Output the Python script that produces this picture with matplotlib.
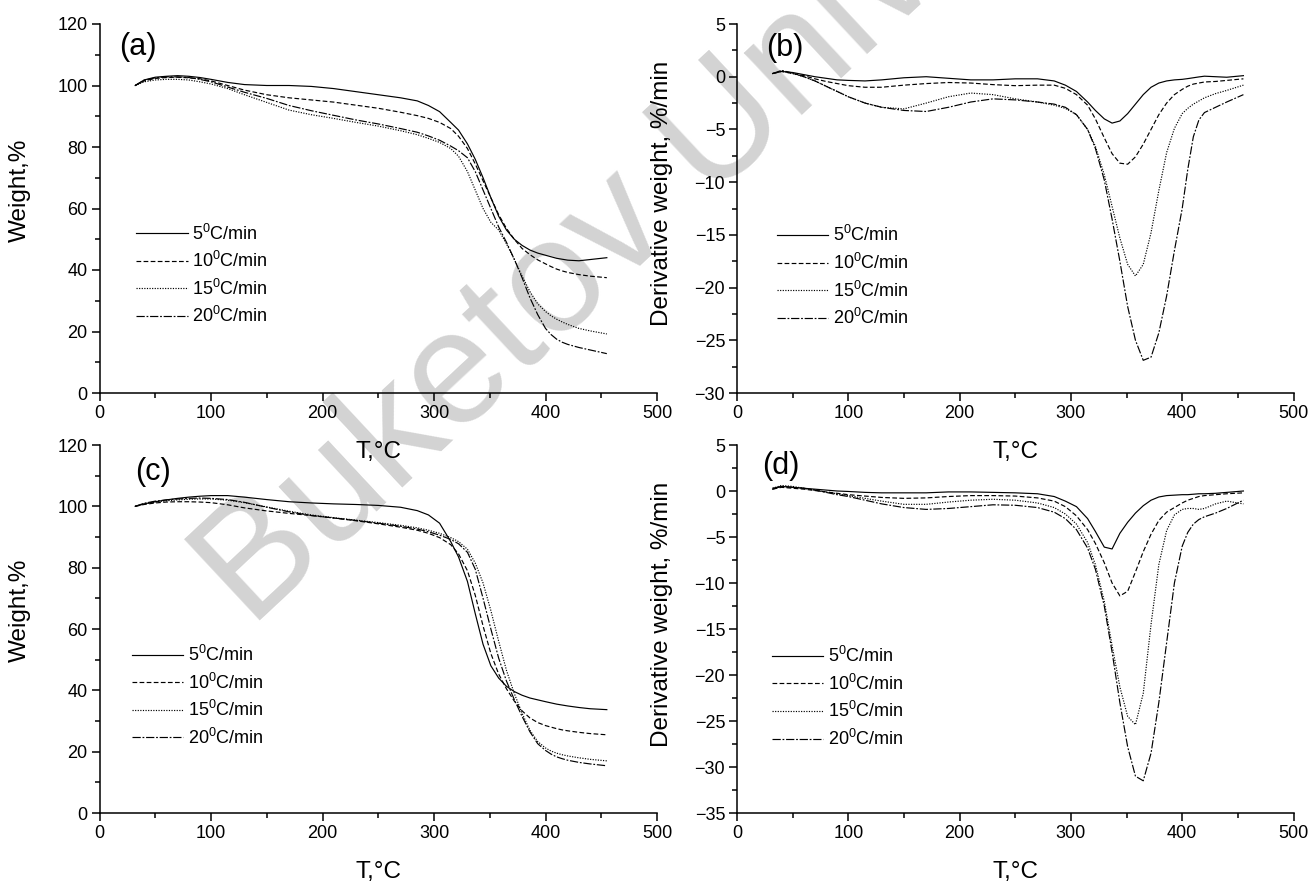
import matplotlib
matplotlib.use('Agg')
import matplotlib.pyplot as plt
from matplotlib.ticker import MultipleLocator

plt.rcParams['font.family'] = ['Liberation Sans', 'DejaVu Sans']
plt.rcParams['mathtext.default'] = 'regular'

# ---------------- data ----------------
T = [32, 40, 50, 60, 70, 80, 90, 100, 115, 130, 150, 170, 190, 210, 230, 250, 270, 285, 295, 305,
     315, 322, 330, 337, 344, 351, 358, 365, 372, 379, 386, 393, 400, 405, 410, 415, 420, 430, 440, 455]

rate_labels = [r'5$^0$C/min', r'10$^0$C/min', r'15$^0$C/min', r'20$^0$C/min']

# (a) TG weight, %
a_5 = [100, 101.8, 102.7, 103, 103.2, 103, 102.6, 102, 101, 100.3, 100, 100, 99.7, 99, 98, 97, 96, 95, 93.5, 91.5,
       88, 85.5, 81, 76, 70, 63.5, 57.5, 53, 50, 48, 46.5, 45.5, 44.8, 44.3, 43.8, 43.5, 43.2, 43, 43.4, 44]
a_10 = [100, 101.5, 102.3, 102.6, 102.7, 102.5, 102.2, 101.5, 100, 98.5, 97, 96, 95.3, 94.6, 93.6, 92.6, 91.3, 90.2, 89.3, 88,
        86, 83.5, 79.5, 74.5, 69, 63.5, 58, 53.5, 50, 47, 45, 43.3, 42, 41.1, 40.3, 39.7, 39.2, 38.5, 38, 37.5]
a_15 = [100, 101.2, 101.8, 102, 102, 101.8, 101.2, 100.5, 99, 97, 94.5, 92, 90.5, 89.3, 88, 86.8, 85.3, 84, 82.8, 81.5,
        79.5, 77, 72, 66, 60, 55.5, 53, 48.5, 43.5, 38, 33, 29, 26.5, 25.1, 24, 23.1, 22.3, 21, 20.2, 19.2]
a_20 = [100, 101.7, 102.5, 102.8, 102.8, 102.6, 102, 101.2, 99.5, 97.8, 95.8, 93.5, 91.8, 90.3, 88.8, 87.5, 86, 84.8, 83.6, 82.2,
        80.3, 78.8, 76.5, 72, 66, 60, 54, 49, 43.5, 37.5, 31, 25.5, 21, 19, 17.5, 16.5, 15.8, 14.8, 14, 12.8]

# (b) DTG derivative weight, %/min
b_5 = [0.3, 0.5, 0.4, 0.2, 0, -0.15, -0.3, -0.35, -0.4, -0.3, -0.1, 0, -0.15, -0.3, -0.3, -0.2, -0.2, -0.4, -0.8, -1.4,
       -2.4, -3.2, -4.0, -4.4, -4.2, -3.5, -2.6, -1.7, -1.0, -0.6, -0.4, -0.3, -0.25, -0.18, -0.1, -0.02, 0.05, 0, -0.05, 0.1]
b_10 = [0.3, 0.5, 0.3, 0.1, -0.2, -0.45, -0.65, -0.85, -1.0, -1.0, -0.8, -0.65, -0.55, -0.6, -0.75, -0.85, -0.8, -0.8, -1.1, -1.7,
        -2.7, -4, -5.8, -7.3, -8.2, -8.3, -7.6, -6.4, -5, -3.6, -2.5, -1.7, -1.2, -0.9, -0.7, -0.6, -0.5, -0.45, -0.35, -0.2]
b_15 = [0.3, 0.55, 0.3, 0, -0.4, -0.9, -1.4, -1.9, -2.5, -2.9, -3.05, -2.5, -1.9, -1.55, -1.7, -2.1, -2.4, -2.7, -3.0, -3.6,
        -5, -6.6, -9.3, -12.3, -15.3, -17.8, -18.9, -17.8, -14.8, -10.8, -7.2, -4.9, -3.5, -3.0, -2.6, -2.3, -2.0, -1.6, -1.3, -0.8]
b_20 = [0.3, 0.6, 0.35, 0, -0.4, -0.9, -1.4, -1.9, -2.5, -2.9, -3.2, -3.3, -2.9, -2.4, -2.1, -2.2, -2.4, -2.6, -2.9, -3.6,
        -5, -6.8, -9.8, -13.5, -17.5, -21.8, -25, -26.9, -26.6, -24.3, -20.8, -16.5, -12.5, -8.8, -5.7, -4.1, -3.4, -2.9, -2.4, -1.7]

# (c) TG weight, %
c_5 = [100, 100.8, 101.5, 102.1, 102.6, 103, 103.3, 103.5, 103.5, 103, 102.2, 101.5, 101.1, 100.8, 100.6, 100.3, 99.7, 98.6, 97.2, 94.5,
       88.5, 83.5, 75.5, 65, 55, 48, 44, 41.3, 39.6, 38.4, 37.5, 36.9, 36.3, 35.9, 35.5, 35.2, 34.9, 34.4, 34, 33.7]
c_10 = [100, 100.6, 101.1, 101.4, 101.5, 101.5, 101.4, 101.2, 100.5, 99.5, 98.5, 97.7, 97, 96.2, 95.3, 94.3, 93.2, 92.2, 91.2, 89.8,
        87.5, 84.5, 79, 71, 61, 52, 45.3, 40.5, 36.5, 33.3, 31, 29.5, 28.5, 28, 27.5, 27.1, 26.8, 26.3, 25.9, 25.5]
c_15 = [100, 100.8, 101.4, 101.8, 102.1, 102.3, 102.4, 102.4, 102, 101.2, 99.8, 98.4, 97.2, 96.3, 95.5, 94.7, 93.8, 93, 92.2, 91.2,
        89.8, 88.5, 86, 81.5, 75, 66, 56, 46.5, 39, 32.5, 27, 23.3, 21.2, 20.2, 19.5, 19, 18.6, 18, 17.5, 17]
c_20 = [100, 101, 101.7, 102.1, 102.4, 102.6, 102.7, 102.6, 102.2, 101.3, 99.7, 98.2, 97, 96.2, 95.4, 94.5, 93.5, 92.6, 91.7, 90.6,
        89.2, 87.8, 85, 79.5, 70, 60, 50.5, 43, 37, 31.5, 26.5, 22.6, 20.4, 19.2, 18.3, 17.7, 17.2, 16.5, 16, 15.4]

# (d) DTG derivative weight, %/min
d_5 = [0.2, 0.5, 0.4, 0.3, 0.2, 0.1, 0, -0.05, -0.15, -0.2, -0.2, -0.2, -0.1, -0.1, -0.15, -0.2, -0.3, -0.6, -1.1, -1.7,
       -3.0, -4.4, -6.1, -6.3, -4.6, -3.4, -2.4, -1.6, -1.0, -0.65, -0.5, -0.45, -0.4, -0.4, -0.35, -0.3, -0.3, -0.25, -0.15, 0]
d_10 = [0.2, 0.4, 0.3, 0.2, 0.05, -0.1, -0.25, -0.4, -0.55, -0.7, -0.8, -0.75, -0.6, -0.5, -0.5, -0.55, -0.75, -1.1, -1.7, -2.7,
        -4.2, -5.7, -7.8, -10, -11.4, -10.9, -8.8, -6.6, -4.7, -3.2, -2.3, -1.8, -1.3, -1, -0.8, -0.6, -0.5, -0.4, -0.3, -0.2]
d_15 = [0.3, 0.6, 0.5, 0.3, 0.1, -0.1, -0.3, -0.5, -0.8, -1.1, -1.45, -1.45, -1.2, -1.0, -0.9, -1.0, -1.3, -1.8, -2.5, -3.6,
        -5.6, -8, -12, -16.8, -21.3, -24.5, -25.4, -22, -14.5, -8, -4.3, -2.6, -2.0, -1.9, -1.9, -2.0, -1.9, -1.4, -1.1, -1.4]
d_20 = [0.3, 0.5, 0.4, 0.3, 0.1, -0.15, -0.4, -0.6, -1.0, -1.4, -1.8, -2.0, -1.9, -1.7, -1.5, -1.55, -1.8, -2.3, -3.0, -4.2,
        -6.2, -8.5, -12.5, -17.5, -23, -27.8, -31, -31.5, -28.5, -23, -16.5, -10, -6, -4.5, -3.6, -3.1, -2.8, -2.4, -1.9, -1.0]

# ---------------- figure ----------------
W, H = 1309, 885
fig = plt.figure(figsize=(W / 100, H / 100), dpi=100)


def rect(l, r, t, b):
    return [l / W, 1 - b / H, (r - l) / W, (b - t) / H]


# watermark
fig.text(0.1917, 0.2893, 'Buketov University', fontsize=116, color='#d3d3d3',
         rotation=43, rotation_mode='anchor', ha='left', va='baseline', zorder=-5,
         family='Liberation Sans')

styles = ['-', (0, (4, 2)), (0, (1, 1.2)), (0, (7, 1.5, 1.5, 1.5))]

panels = [
    dict(r=rect(99.5, 657, 24, 393), series=[a_5, a_10, a_15, a_20], ylim=(0, 120), major=20, minor=10,
         ylabel='Weight,%', yl=(-0.143, 0.55), tag='(a)', tagpos=(34, 112.6), leg=(0.0655, 0.320)),
    dict(r=rect(737, 1293.5, 24, 393), series=[b_5, b_10, b_15, b_20], ylim=(-30, 5), major=5, minor=2.5,
         ylabel='Derivative weight, %/min', yl=(-0.134, 0.54), tag='(b)', tagpos=(43, 2.7), leg=(0.071, 0.315)),
    dict(r=rect(99.5, 657, 445, 813), series=[c_5, c_10, c_15, c_20], ylim=(0, 120), major=20, minor=10,
         ylabel='Weight,%', yl=(-0.143, 0.55), tag='(c)', tagpos=(48, 111.2), leg=(0.058, 0.317)),
    dict(r=rect(737, 1293.5, 445, 813), series=[d_5, d_10, d_15, d_20], ylim=(-35, 5), major=5, minor=2.5,
         ylabel='Derivative weight, %/min', yl=(-0.134, 0.54), tag='(d)', tagpos=(39, 2.7), leg=(0.062, 0.314)),
]

for p in panels:
    ax = fig.add_axes(p['r'])
    ax.set_facecolor('none')
    lines = []
    for ys, ls in zip(p['series'], styles):
        ln, = ax.plot(T, ys, color='black', lw=0.85, linestyle=ls)
        lines.append(ln)
    ax.set_xlim(0, 500)
    ax.set_ylim(*p['ylim'])
    ax.xaxis.set_major_locator(MultipleLocator(100))
    ax.xaxis.set_minor_locator(MultipleLocator(50))
    ax.yaxis.set_major_locator(MultipleLocator(p['major']))
    ax.yaxis.set_minor_locator(MultipleLocator(p['minor']))
    for s in ('top', 'right'):
        ax.spines[s].set_visible(False)
    for s in ('left', 'bottom'):
        ax.spines[s].set_linewidth(1.1)
    ax.tick_params(which='both', direction='out', width=1.1, labelsize=13, pad=2.5)
    ax.tick_params(which='major', length=6)
    ax.tick_params(which='minor', length=3.5)

    ax.set_xlabel('T,\u00b0C', fontsize=17.5)
    ax.xaxis.label.set_va('center')
    ax.xaxis.set_label_coords(0.5, -0.16)
    ax.set_ylabel(p['ylabel'], fontsize=17.5)
    ax.yaxis.label.set_va('center')
    ax.yaxis.set_label_coords(*p['yl'])

    ax.text(p['tagpos'][0], p['tagpos'][1], p['tag'], fontsize=22, ha='center', va='center')

    ax.legend(lines, rate_labels, loc='center left', bbox_to_anchor=p['leg'], frameon=False,
              fontsize=13, handlelength=2.86, handletextpad=0.25, labelspacing=0.415,
              borderpad=0, borderaxespad=0)

fig.savefig('out.png', dpi=100)
